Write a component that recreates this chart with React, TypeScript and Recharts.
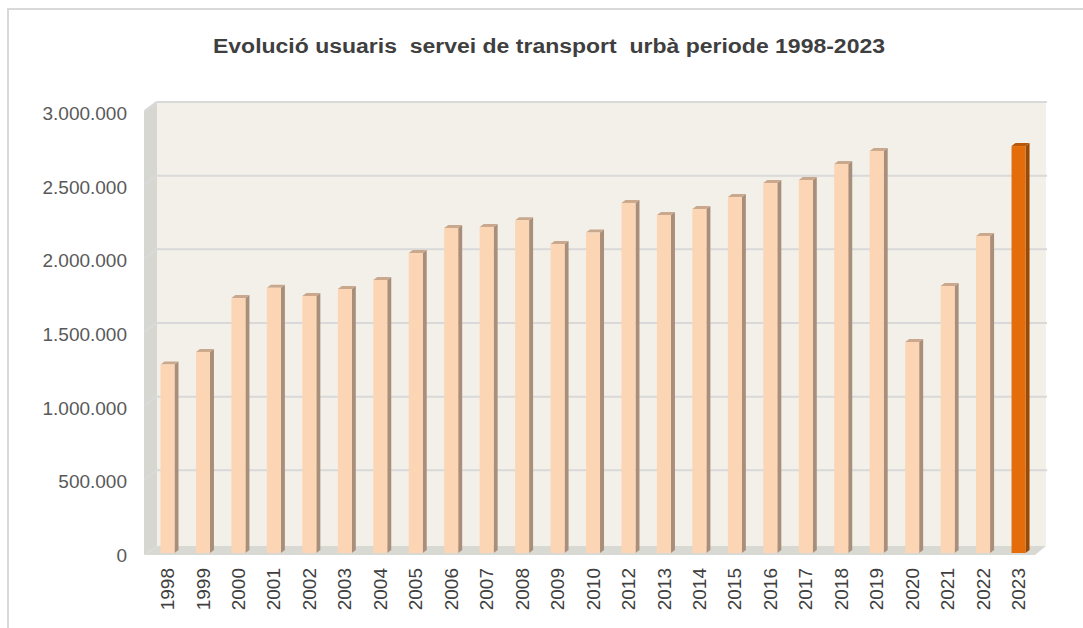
import React from 'react';
import { BarChart, Bar, XAxis, YAxis, CartesianGrid } from 'recharts';

const years = ['1998','1999','2000','2001','2002','2003','2004','2005','2006','2007','2008','2009','2010','2012','2013','2014','2015','2016','2017','2018','2019','2020','2021','2022','2023'];
const users = [1280000,1365000,1730000,1800000,1744000,1792000,1853000,2036000,2206000,2213000,2258000,2097000,2175000,2376000,2294000,2335000,2416000,2511000,2532000,2640000,2729000,1432000,1812000,2152000,2762000];
const yTicks = [0,500000,1000000,1500000,2000000,2500000,3000000];
const highlightYear = '2023';
const title = 'Evolució usuaris  servei de transport  urbà periode 1998-2023';

const data = years.map((y, i) => ({ year: y, value: users[i] }));

const W = 1083;
const H = 628;
const FONT = '"Liberation Sans", Arial, sans-serif';
const DX = 11; // depth offset x
const DY = 9;  // depth offset y

const fmt = (n: number) => String(n).replace(/\B(?=(\d{3})+(?!\d))/g, '.');

const Bar3D = (props: any) => {
  const { x, y, width, height, payload } = props;
  if (height == null || height <= 0) return null;
  const hi = payload && payload.year === highlightYear;
  const front = hi ? '#E46C0A' : '#FCD5B4';
  const side = hi ? '#9A4A07' : '#A98E79';
  const top = hi ? '#B8560A' : '#C9A88D';
  const d = 4, u = 3;
  return (
    <g>
      <polygon points={`${x + width},${y} ${x + width + d},${y - u} ${x + width + d},${y + height - u} ${x + width},${y + height}`} fill={side} />
      <polygon points={`${x},${y} ${x + d},${y - u} ${x + width + d},${y - u} ${x + width},${y}`} fill={top} />
      <rect x={x} y={y} width={width} height={height} fill={front} />
    </g>
  );
};

const YTick = (props: any) => {
  const { x, y, payload } = props;
  return (
    <text x={x} y={y + 2} dy="0.36em" textAnchor="end" fill="#595959" fontSize={19} fontFamily={FONT}>
      {fmt(payload.value)}
    </text>
  );
};

const XTick = (props: any) => {
  const { x, y, payload } = props;
  return (
    <g transform={`translate(${x},${y})`}>
      <text transform="rotate(-90)" x={0} y={0} dy="0.36em" textAnchor="end" fill="#404040" fontSize={19} fontFamily={FONT}>
        {payload.value}
      </text>
    </g>
  );
};

const GridLine = (props: any) => {
  const { x1, y1, x2, key } = props;
  if (y1 > 540) return <g key={key} />;
  const yb = y1 - DY;
  return (
    <g key={key}>
      <line x1={x1 - 5} y1={y1} x2={x1 + DX - 4} y2={yb} stroke="#D9D9D9" strokeWidth={2} />
      <line x1={x1 + DX - 4} y1={yb} x2={x2 + DX} y2={yb} stroke="#D9D9D9" strokeWidth={2} />
    </g>
  );
};

export default function App() {
  return (
    <div style={{ position: 'absolute', left: 0, top: 0, width: W, height: H, background: '#fff' }}>
      <svg width={W} height={H} style={{ position: 'absolute', left: 0, top: 0 }}>
        <line x1={7.5} y1={9} x2={W} y2={9} stroke="#D9D9D9" strokeWidth={2} />
        <line x1={8} y1={8} x2={8} y2={H} stroke="#D9D9D9" strokeWidth={2} />
        <text x={549} y={53} textAnchor="middle" fontSize={20} fontWeight="bold" fill="#3F3F3F" fontFamily={FONT} style={{ whiteSpace: 'pre' }} textLength={672} lengthAdjust="spacingAndGlyphs">
          {title}
        </text>
        <rect x={157} y={102} width={889} height={444} fill="#F3F0E9" />
        <polygon points="144,111 157,102 157,546 144,555" fill="#D7D7D2" />
        <polygon points="157,546 1046,546 1035,555 144,555" fill="#D9D9D4" />
      </svg>
      <div style={{ position: 'absolute', left: 0, top: 0 }}>
        <BarChart width={W} height={H} data={data} margin={{ top: 111, right: 47, bottom: 15, left: 20 }} barCategoryGap={0}>
          <CartesianGrid vertical={false} horizontal={GridLine as any} />
          <XAxis dataKey="year" type="category" interval={0} axisLine={false} tickLine={false} tickMargin={9} height={60} tick={<XTick />} />
          <YAxis type="number" domain={[0, 3000000]} ticks={yTicks} interval={0} axisLine={false} tickLine={false} width={129.5} tickMargin={16.5} tick={<YTick />} />
          <Bar dataKey="value" barSize={14} isAnimationActive={false} shape={<Bar3D />} />
        </BarChart>
      </div>
    </div>
  );
}
